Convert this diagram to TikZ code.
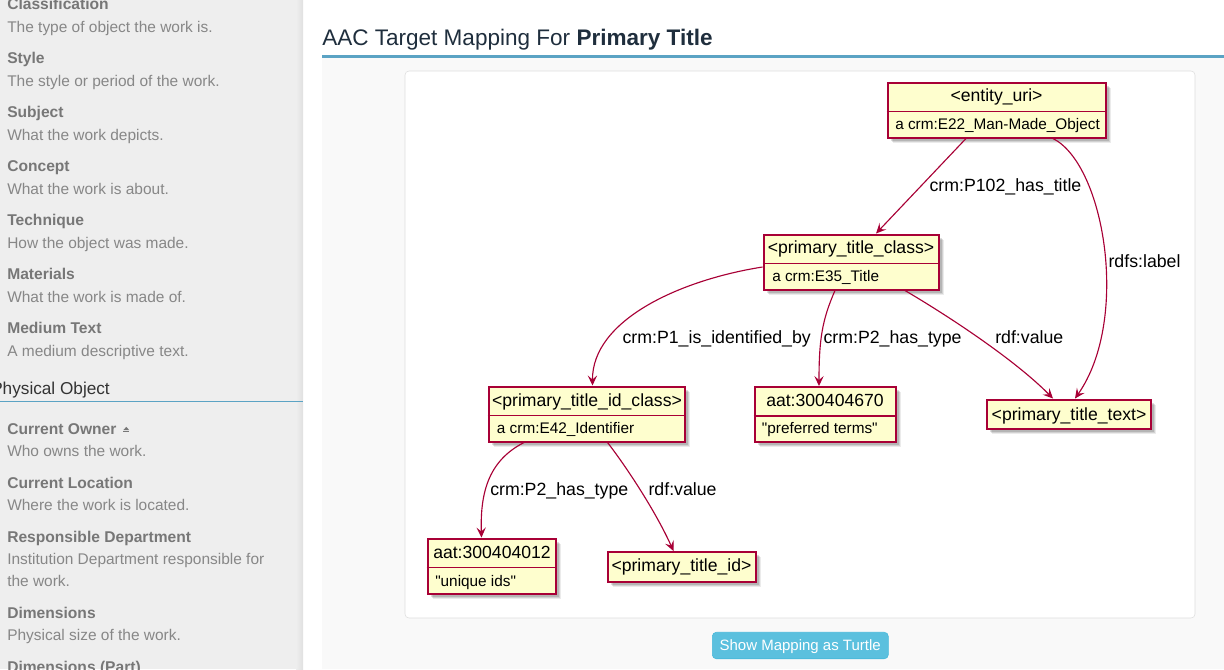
\documentclass[tikz,border=0pt]{standalone}
\usepackage{fontspec}
\setmainfont{Liberation Sans}[Ligatures=TeXOff]
\usetikzlibrary{shadows,arrows.meta,calc}
\definecolor{sidebg}{HTML}{EEEEEE}
\definecolor{sidelbl}{HTML}{777777}
\definecolor{sidedsc}{HTML}{878787}
\definecolor{headc}{HTML}{333333}
\definecolor{rulec}{HTML}{5BA3C4}
\definecolor{titlec}{HTML}{1F2E3D}
\definecolor{mainbg}{HTML}{F9F9F9}
\definecolor{panelborder}{HTML}{DDDDDD}
\definecolor{umlfill}{HTML}{FEFECE}
\definecolor{umlred}{HTML}{A80036}
\definecolor{btnc}{HTML}{5BC0DE}
\definecolor{btnborder}{HTML}{46B8DA}
\begin{document}
\begin{tikzpicture}[x=0.75pt,y=-0.75pt,
  sidelabel/.style={anchor=base west, inner sep=0, text=sidelbl, font=\fontsize{11.7}{14}\selectfont\bfseries},
  sidetext/.style={anchor=base west, inner sep=0, text=sidedsc, font=\fontsize{11.6}{14}\selectfont},
  umlbox/.style={draw=umlred, fill=umlfill, line width=1.5pt, inner sep=0,
    drop shadow={shadow xshift=4pt, shadow yshift=-4pt, opacity=0.08, fill=black},
    drop shadow={shadow xshift=3.2pt, shadow yshift=-3.2pt, opacity=0.11, fill=black},
    drop shadow={shadow xshift=2.4pt, shadow yshift=-2.4pt, opacity=0.13, fill=black}},
  umlhead/.style={anchor=base, inner sep=0, font=\fontsize{13.2}{15}\selectfont},
  umlattr/.style={anchor=base west, inner sep=0, font=\fontsize{11.5}{14}\selectfont},
  edgelbl/.style={anchor=base west, inner sep=0, font=\fontsize{13.3}{15}\selectfont},
  edge/.style={draw=umlred, line width=0.85pt, -{Stealth[length=7.5pt,width=7pt,inset=3pt]}},
  divider/.style={draw=umlred, line width=1.2pt}]
\useasboundingbox (0,0) rectangle (1224,669);
% backgrounds
\fill[white] (0,0) rectangle (1224,669);
\fill[sidebg] (0,0) rectangle (303,669);
\shade[left color=sidebg, right color=black!12] (296,0) rectangle (303,669);
\fill[mainbg] (322,57) rectangle (1224,669);
\fill[rulec] (322,54.8) rectangle (1224,57.8);
\draw[panelborder, fill=white, rounded corners=3pt] (405,71) rectangle (1195,618);

% sidebar
\node[sidelabel] (s1) at (7,9.5) {Classification};
\node[sidetext] (d1) at (7,32) {The type of object the work is.};
\node[sidelabel] (s2) at (7,63.5) {Style};
\node[sidetext] (d2) at (7,86) {The style or period of the work.};
\node[sidelabel] (s3) at (7,117.5) {Subject};
\node[sidetext] (d3) at (7,140) {What the work depicts.};
\node[sidelabel] (s4) at (7,171.5) {Concept};
\node[sidetext] (d4) at (7,194) {What the work is about.};
\node[sidelabel] (s5) at (7,225.5) {Technique};
\node[sidetext] (d5) at (7,248) {How the object was made.};
\node[sidelabel] (s6) at (7,279.5) {Materials};
\node[sidetext] (d6) at (7,302) {What the work is made of.};
\node[sidelabel] (s7) at (7,333.5) {Medium Text};
\node[sidetext] (d7) at (7,356) {A medium descriptive text.};
\node[anchor=base west, inner sep=0, text=headc, font=\fontsize{12.9}{15}\selectfont] (phys) at (-9,394) {Physical Object};
\draw[rulec, line width=0.75pt] (0,401) -- (303,401);
\node[sidelabel] (s8) at (7,434.3) {Current Owner};
\fill[sidelbl] (123.3,430.2) -- (126.3,426.8) -- (129.3,430.2) -- cycle;
\fill[sidelbl] (123.3,431) rectangle (129.3,432.3);
\node[sidetext] (d8) at (7,456.5) {Who owns the work.};
\node[sidelabel] (s9) at (7,488.3) {Current Location};
\node[sidetext] (d9) at (7,510.5) {Where the work is located.};
\node[sidelabel] (s10) at (7,542.5) {Responsible Department};
\node[sidetext] (d10) at (7,564.7) {Institution Department responsible for};
\node[sidetext] (d10b) at (7,586.7) {the work.};
\node[sidelabel] (s11) at (7,618.3) {Dimensions};
\node[sidetext] (d11) at (7,640.3) {Physical size of the work.};
\node[sidelabel] (s12) at (7,672.6) {Dimensions (Part)};

% title
\node[anchor=base west, inner sep=0, text=titlec, font=\fontsize{16.9}{20}\selectfont] (title) at (322,45.7) {AAC Target Mapping For \textbf{Primary Title}};

% diagram boxes
\node[umlbox, minimum width=218*0.75pt, minimum height=55*0.75pt] (ent) at (996.5,110) {};
\node[umlbox, minimum width=175*0.75pt, minimum height=55*0.75pt] (ptc) at (851,262) {};
\node[umlbox, minimum width=196*0.75pt, minimum height=55*0.75pt] (ptic) at (586.5,414) {};
\node[umlbox, minimum width=141*0.75pt, minimum height=55*0.75pt] (aat1) at (825,414.5) {};
\node[umlbox, minimum width=164*0.75pt, minimum height=29.5*0.75pt] (ptt) at (1069,414.25) {};
\node[umlbox, minimum width=128*0.75pt, minimum height=55*0.75pt] (aat2) at (491.5,566) {};
\node[umlbox, minimum width=148*0.75pt, minimum height=29.5*0.75pt] (ptid) at (681.5,566.75) {};

\foreach \b in {ent,ptc,ptic,aat1,aat2}{
  \draw[divider] ([yshift=-22.5pt]\b.north west) -- ([yshift=-22.5pt]\b.north east);
}

\node[umlhead] (enth) at (996.5,101.7) {<entity\_uri>};
\node[umlattr] (enta) at (895,129.3) {a crm:E22\_Man-Made\_Object};
\node[umlhead] (ptch) at (851,253.3) {<primary\_title\_class>};
\node[umlattr] (ptca) at (772,281) {a crm:E35\_Title};
\node[umlhead] (ptich) at (587,406.7) {<primary\_title\_id\_class>};
\node[umlattr] (ptica) at (496.7,433.3) {a crm:E42\_Identifier};
\node[umlhead] (aat1h) at (825,406.7) {aat:300404670};
\node[umlattr] (aat1a) at (761.7,433.3) {"preferred terms"};
\node[umlhead] (ptth) at (1069,420) {<primary\_title\_text>};
\node[umlhead] (aat2h) at (492,558.3) {aat:300404012};
\node[umlattr] (aat2a) at (435,586) {"unique ids"};
\node[umlhead] (ptidh) at (681.5,571.7) {<primary\_title\_id>};

% connectors
\draw[edge] ([xshift=-30.5*0.75pt]ent.south) -- ([xshift=25*0.75pt]ptc.north);
\draw[edge] ([xshift=56.5*0.75pt]ent.south) .. controls (1105,165) and (1130,320) .. ([xshift=6*0.75pt]ptt.north);
\draw[edge] ([yshift=-5*0.75pt]ptc.west) .. controls (680,280) and (592,320) .. ([xshift=6*0.75pt]ptic.north);
\draw[edge] ([xshift=-16*0.75pt]ptc.south) .. controls (822,320) and (819,340) .. ([xshift=-6*0.75pt]aat1.north);
\draw[edge] ([xshift=54*0.75pt]ptc.south) .. controls (950,317) and (1015,360) .. ([xshift=-16*0.75pt]ptt.north);
\draw[edge] ([xshift=-62.5*0.75pt]ptic.south) .. controls (490,460) and (480,490) .. ([xshift=-10*0.75pt]aat2.north);
\draw[edge] ([xshift=21*0.75pt]ptic.south) .. controls (625,465) and (655,510) .. ([xshift=-8*0.75pt]ptid.north);

\node[edgelbl] (l1) at (929.3,191.7) {crm:P102\_has\_title};
\node[edgelbl] (l2) at (1108.3,267.3) {rdfs:label};
\node[edgelbl] (l3) at (622.3,343.3) {crm:P1\_is\_identified\_by};
\node[edgelbl] (l4) at (823.3,343.3) {crm:P2\_has\_type};
\node[edgelbl] (l5) at (995,343.3) {rdf:value};
\node[edgelbl] (l6) at (490,495) {crm:P2\_has\_type};
\node[edgelbl] (l7) at (648.3,495) {rdf:value};

% button
\node[fill=btnc, draw=btnborder, rounded corners=3pt, minimum width=176*0.75pt, minimum height=26.5*0.75pt, inner sep=0] (btn) at (800.3,645.5) {};
\node[anchor=base, inner sep=0, text=white, font=\fontsize{11.25}{13}\selectfont] (btnt) at (800.2,650) {Show Mapping as Turtle};
\end{tikzpicture}
\end{document}
